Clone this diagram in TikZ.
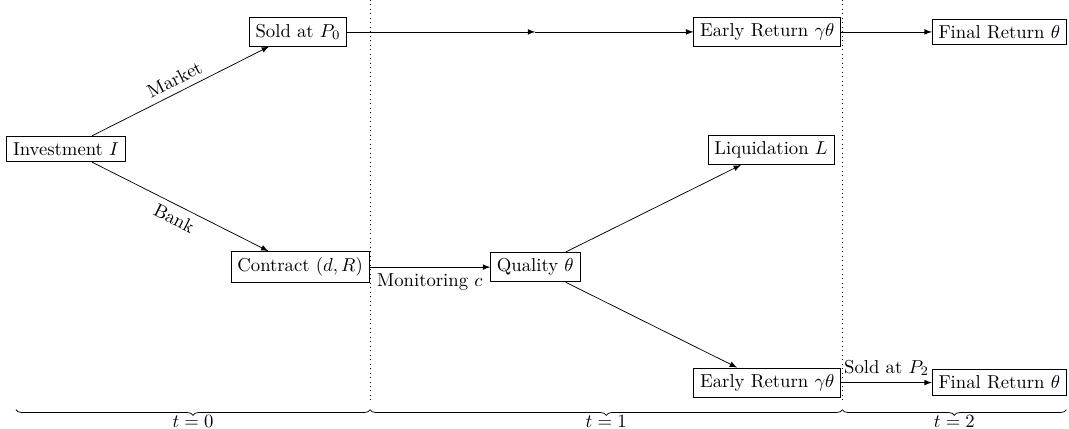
\documentclass[tikz,border=0pt]{standalone}
\usepackage{amsmath,amssymb}
\usepackage{tikz}
\usetikzlibrary{decorations.pathreplacing}

\begin{document}
\begin{tikzpicture}[box/.style={draw,rectangle,fill=white},>=latex]
    \useasboundingbox (0,0) rectangle (20.09,-8.06);

    % time periods
    \draw[dotted] (6.955,0) -- (6.955,-7.58);
    \draw[dotted] (15.83,0) -- (15.83,-7.58);

    \node[box] (I) at (1.24,-2.80) {Investment $I$};
    \node[box] (S0) at (5.60,-0.60) {Sold at $P_0$};
    \node[box] (C) at (5.64,-5.02) {Contract $(d,R)$};
    \node[box] (Q) at (10.06,-5.02) {Quality $\theta$};
    \node[box] (L) at (14.49,-2.82) {Liquidation $L$};
    \node[box] (E1) at (14.42,-0.60) {Early Return $\gamma\theta$};
    \node[box] (F1) at (18.78,-0.60) {Final Return $\theta$};
    \node[box] (E2) at (14.42,-7.19) {Early Return $\gamma\theta$};
    \node[box] (F2) at (18.78,-7.19) {Final Return $\theta$};
    \coordinate (M) at (10.06,-0.60);

    \draw[->] (I) -- (S0) node[midway,above,sloped] {Market};
    \draw[->] (I) -- (C) node[midway,below,sloped] {Bank};
    \draw[->] (S0) -- (M);
    \draw[->] (M) -- (E1);
    \draw[->] (E1) -- (F1);
    \draw[->] (C) -- (Q) node[midway,below] {Monitoring $c$};
    \draw[->] (Q) -- (L);
    \draw[->] (Q) -- (E2);
    \draw[->] (E2) -- (F2) node[midway,above] {Sold at $P_2$};

    % braces
    \draw[decorate,decoration={brace,mirror,amplitude=3pt}] (0.30,-7.70) -- (6.955,-7.70) node[midway,below=2pt,inner sep=1pt] {$t=0$};
    \draw[decorate,decoration={brace,mirror,amplitude=3pt}] (6.955,-7.70) -- (15.83,-7.70) node[midway,below=2pt,inner sep=1pt] {$t=1$};
    \draw[decorate,decoration={brace,mirror,amplitude=3pt}] (15.83,-7.70) -- (20.04,-7.70) node[midway,below=2pt,inner sep=1pt] {$t=2$};
\end{tikzpicture}
\end{document}
